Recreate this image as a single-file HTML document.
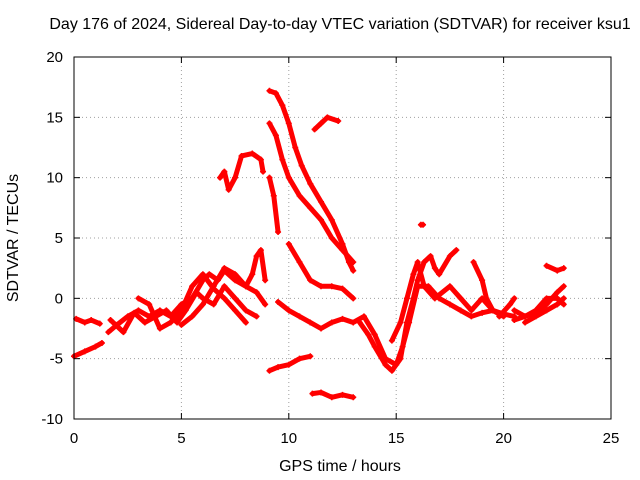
<!DOCTYPE html>
<html><head><meta charset="utf-8"><style>
body{margin:0;background:#fff}
svg{display:block;font-family:"Liberation Sans",sans-serif}
</style></head><body>
<svg id="chart" width="640" height="480">
<text x="340" y="29" text-anchor="middle" font-size="16">Day 176 of 2024, Sidereal Day-to-day VTEC variation (SDTVAR) for receiver ksu1</text>
<text x="340" y="471" text-anchor="middle" font-size="16">GPS time / hours</text>
<text transform="translate(18,238) rotate(-90)" text-anchor="middle" font-size="16">SDTVAR / TECUs</text>
<g id="grid"></g><g id="series"></g><g id="axes"></g>
</svg>
<script>
const xTicks=[0,5,10,15,20,25];
const yTicks=[-10,-5,0,5,10,15,20];
const tracks=[
[[0,-4.8],[0.5,-4.4],[1,-4],[1.3,-3.7]],
[[0.1,-1.7],[0.5,-2],[0.8,-1.8],[1.2,-2.1]],
[[1.6,-2.8],[2,-2.2],[2.5,-1.5],[3,-1],[3.5,-1.5],[4,-1],[4.5,-1.5],[5,-0.5],[5.5,0],[6,1.5],[6.3,2],[6.7,1.5],[7,2.3],[7.5,1.5],[8,1],[8.3,2],[8.5,3.5],[8.7,4],[8.9,1.5]],
[[1.7,-1.8],[2.3,-2.8],[2.8,-1.2],[3.3,-2],[3.8,-1.5],[4.3,-1],[4.8,-2],[5.2,-1],[5.7,0.5],[6,0],[6.5,-0.5],[7,1],[7.5,0],[8,-1],[8.5,-1.5]],
[[3,0],[3.5,-0.5],[4,-2.5],[4.5,-2],[5,-1],[5.5,1],[6,2],[6.5,0.8],[7,0],[7.5,-1],[8,-2]],
[[5,-2.2],[5.5,-1.5],[6,-0.5],[6.5,1],[7,2.5],[7.5,2],[8,1],[8.5,0.5],[8.9,-0.5]],
[[6.8,10],[7,10.5],[7.2,9],[7.5,10],[7.8,11.8],[8.3,12],[8.7,11.5],[8.8,10.5]],
[[9.1,17.2],[9.4,17],[9.7,16],[10,14.5],[10.3,12.5],[10.6,11],[11,9.5],[11.5,8],[12,6.5],[12.5,4.5],[12.8,3],[13,2.3]],
[[9.1,14.5],[9.4,13.5],[9.7,11.5],[10,10],[10.5,8.5],[11,7.5],[11.5,6.5],[12,5],[12.5,4],[13,3]],
[[9.1,10],[9.3,8.5],[9.5,5.5]],
[[10,4.5],[10.5,3],[11,1.5],[11.5,1],[12,1],[12.5,0.8],[13,0]],
[[9.1,-6],[9.5,-5.7],[10,-5.5],[10.5,-5],[11,-4.8]],
[[11.1,-7.9],[11.5,-7.8],[12,-8.2],[12.5,-8],[13,-8.2]],
[[11.2,14],[11.5,14.5],[11.8,15],[12.3,14.7]],
[[9.5,-0.3],[10,-1],[10.5,-1.5],[11,-2],[11.5,-2.5],[12,-2],[12.5,-1.7],[13,-2],[13.5,-1.5],[14,-3],[14.5,-5],[15,-5.5],[15.3,-4],[15.6,-2],[16,1],[16.5,1],[17,0],[17.5,-0.5],[18,-1],[18.5,-1.5],[19,-1.2],[19.5,-1],[20,-1.3],[20.5,-1.5]],
[[13.3,-2],[13.7,-3],[14,-4],[14.5,-5.5],[14.8,-6],[15.2,-5],[15.5,-2],[15.8,0],[16,1.5],[16.3,3],[16.6,3.5],[16.8,2.5],[17,2],[17.5,3.5],[17.8,4]],
[[14.8,-3.5],[15.2,-2],[15.5,0],[15.8,2],[16,3],[16.3,1],[16.8,0],[17.5,1],[18,0],[18.5,-1],[19,0],[19.5,-1],[20,-1.5]],
[[16.15,6.1],[16.25,6.1]],
[[18.6,3],[19,1.5],[19.2,0],[19.5,-1]],
[[20.5,-1],[21,-1.5],[21.5,-1.2],[22,-0.5],[22.5,0.5],[22.8,1]],
[[20.5,-1.8],[21,-1.5],[21.5,-1],[22,0],[22.5,0],[22.8,-0.5]],
[[21,-2],[21.5,-1.5],[22,-1],[22.5,-0.5],[22.8,0]],
[[22,2.7],[22.5,2.3],[22.8,2.5]],
[[19.8,-1.5],[20.3,-0.5],[20.5,0]]
];
const X0=74,X1=611,Y0=419,Y1=57;
const sx=v=>X0+(v-0)/(25-0)*(X1-X0);
const sy=v=>Y0-(v+10)/30*(Y0-Y1);
const NS="http://www.w3.org/2000/svg";
function mk(tag,attrs,parent){const e=document.createElementNS(NS,tag);for(const k in attrs)e.setAttribute(k,attrs[k]);parent.appendChild(e);return e;}
const grid=document.getElementById('grid'),axes=document.getElementById('axes'),ser=document.getElementById('series');
xTicks.forEach(t=>{
 if(t>0&&t<25){const g=mk('line',{x1:sx(t),x2:sx(t),y1:Y0,y2:Y1,stroke:'#a0a0a0','stroke-dasharray':'1,3'},grid);
 
 }
 const l=mk('text',{x:sx(t),y:Y0+24,'text-anchor':'middle','font-size':15},axes);l.textContent=t;
 
 
 mk('line',{x1:sx(t),x2:sx(t),y1:Y0,y2:Y0-6,stroke:'#000'},axes);
 mk('line',{x1:sx(t),x2:sx(t),y1:Y1,y2:Y1+6,stroke:'#000'},axes);
});
yTicks.forEach(t=>{
 if(t>-10&&t<20){const g=mk('line',{x1:X0,x2:X1,y1:sy(t),y2:sy(t),stroke:'#a0a0a0','stroke-dasharray':'1,3'},grid);
 
 }
 const l=mk('text',{x:X0-11,y:sy(t)+5,'text-anchor':'end','font-size':15},axes);l.textContent=t;
 
 
 mk('line',{x1:X0,x2:X0+6,y1:sy(t),y2:sy(t),stroke:'#000'},axes);
 mk('line',{x1:X1,x2:X1-6,y1:sy(t),y2:sy(t),stroke:'#000'},axes);
});
const fr=mk('rect',{x:X0,y:Y1,width:X1-X0,height:Y0-Y1,fill:'none',stroke:'#000'},axes);


tracks.forEach(tr=>{
 const p=mk('polyline',{points:tr.map(d=>sx(d[0])+','+sy(d[1])).join(' '),fill:'none',stroke:'#f00','stroke-width':5,'stroke-linejoin':'round','stroke-linecap':'round'},ser);
 
 
 tr.forEach(d=>{
  const c=mk('path',{d:`M${sx(d[0])-3},${sy(d[1])}h6M${sx(d[0])},${sy(d[1])-3}v6`,stroke:'#f00','stroke-width':1.5},ser);
  
  
 });
});
</script>
</body></html>
